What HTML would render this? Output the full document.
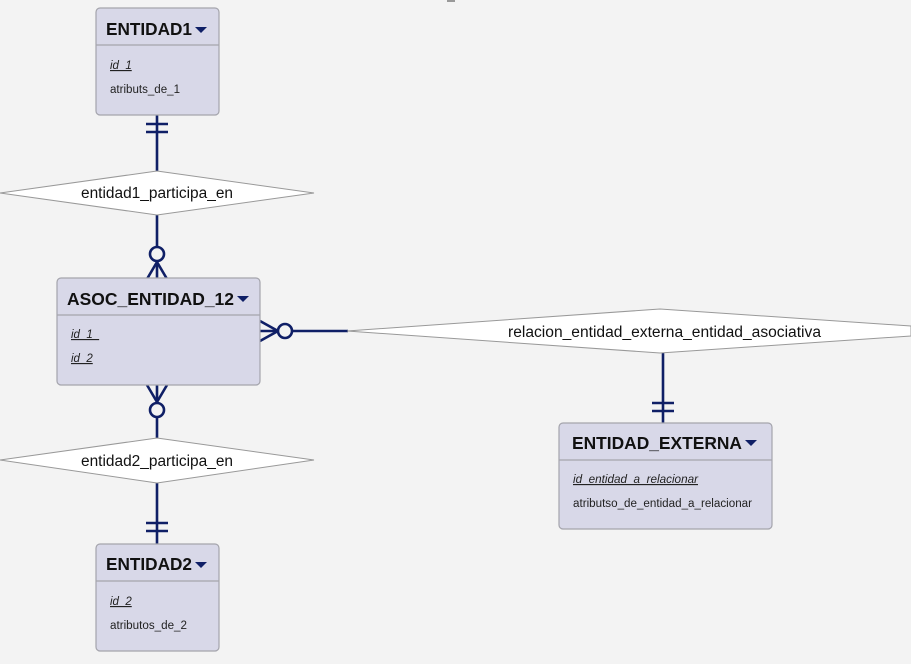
<!DOCTYPE html>
<html><head><meta charset="utf-8"><style>
html,body{margin:0;padding:0;background:#f3f3f3;}
svg{display:block;font-family:"Liberation Sans",Arial,sans-serif;}
.ent{fill:#d8d8e8;stroke:#a4a4ac;stroke-width:1.2;}
.hl{stroke:#a4a4ac;stroke-width:1.2;}
.t{font-weight:bold;font-size:17.5px;fill:#111;}
.a{font-size:11.5px;fill:#222;}
.k{font-size:11.5px;fill:#222;font-style:italic;text-decoration:underline;}
.d{fill:#fff;stroke:#999;stroke-width:1;}
.dt{font-size:15.5px;fill:#111;}
.c{stroke:#0f1f66;stroke-width:2.6;fill:none;}
.tri{fill:#0f1f66;}
</style></head><body>
<svg width="911" height="664" viewBox="0 0 911 664">
<rect x="447" y="0" width="8" height="2" fill="#999"/>
<!-- connectors -->
<line class="c" x1="157" y1="115" x2="157" y2="171"/>
<line class="c" x1="146" y1="124" x2="168" y2="124"/>
<line class="c" x1="146" y1="132" x2="168" y2="132"/>
<line class="c" x1="157" y1="215" x2="157" y2="246"/>
<circle class="c" cx="157" cy="254" r="7" fill="#f3f3f3"/>
<line class="c" x1="157" y1="261" x2="157" y2="279"/>
<line class="c" x1="157" y1="262" x2="147" y2="279"/>
<line class="c" x1="157" y1="262" x2="167" y2="279"/>

<line class="c" x1="260" y1="331" x2="278" y2="331"/>
<line class="c" x1="278" y1="331" x2="260" y2="321"/>
<line class="c" x1="278" y1="331" x2="260" y2="341"/>
<circle class="c" cx="285" cy="331" r="7" fill="#f3f3f3"/>
<line class="c" x1="292" y1="331" x2="348" y2="331"/>

<line class="c" x1="663" y1="353" x2="663" y2="423"/>
<line class="c" x1="652" y1="403" x2="674" y2="403"/>
<line class="c" x1="652" y1="411" x2="674" y2="411"/>

<line class="c" x1="157" y1="385" x2="157" y2="403"/>
<line class="c" x1="157" y1="402" x2="147" y2="385"/>
<line class="c" x1="157" y1="402" x2="167" y2="385"/>
<circle class="c" cx="157" cy="410" r="7" fill="#f3f3f3"/>
<line class="c" x1="157" y1="417" x2="157" y2="438"/>

<line class="c" x1="157" y1="483" x2="157" y2="544"/>
<line class="c" x1="146" y1="523" x2="168" y2="523"/>
<line class="c" x1="146" y1="531" x2="168" y2="531"/>

<!-- diamonds -->
<polygon class="d" points="0,193 157,171 314,193 157,215"/>
<text class="dt" x="81" y="198" textLength="152" lengthAdjust="spacingAndGlyphs">entidad1_participa_en</text>
<polygon class="d" points="0,460 157,438 314,460 157,483"/>
<text class="dt" x="81" y="466" textLength="152" lengthAdjust="spacingAndGlyphs">entidad2_participa_en</text>
<polygon class="d" points="347,331 660,309 911,326 911,336 660,353"/>
<text class="dt" x="508" y="337" textLength="313" lengthAdjust="spacingAndGlyphs">relacion_entidad_externa_entidad_asociativa</text>

<!-- entities -->
<rect class="ent" x="96" y="8" width="123" height="107" rx="4"/>
<line class="hl" x1="96" y1="45" x2="219" y2="45"/>
<text class="t" x="106" y="35" textLength="86" lengthAdjust="spacingAndGlyphs">ENTIDAD1</text>
<polygon class="tri" points="195,27 207,27 201,33"/>
<text class="k" x="110" y="69">id_1</text>
<text class="a" x="110" y="93" textLength="70" lengthAdjust="spacingAndGlyphs">atributs_de_1</text>

<rect class="ent" x="57" y="278" width="203" height="107" rx="4"/>
<line class="hl" x1="57" y1="315" x2="260" y2="315"/>
<text class="t" x="67" y="305" textLength="167" lengthAdjust="spacingAndGlyphs">ASOC_ENTIDAD_12</text>
<polygon class="tri" points="237,296 249,296 243,302"/>
<text class="k" x="71" y="338">id_1_</text>
<text class="k" x="71" y="362">id_2</text>

<rect class="ent" x="559" y="423" width="213" height="106" rx="4"/>
<line class="hl" x1="559" y1="460" x2="772" y2="460"/>
<text class="t" x="572" y="449" textLength="170" lengthAdjust="spacingAndGlyphs">ENTIDAD_EXTERNA</text>
<polygon class="tri" points="745,440 757,440 751,446"/>
<text class="k" x="573" y="483" textLength="125" lengthAdjust="spacingAndGlyphs">id_entidad_a_relacionar</text>
<text class="a" x="573" y="507" textLength="179" lengthAdjust="spacingAndGlyphs">atributso_de_entidad_a_relacionar</text>

<rect class="ent" x="96" y="544" width="123" height="107" rx="4"/>
<line class="hl" x1="96" y1="581" x2="219" y2="581"/>
<text class="t" x="106" y="570" textLength="86" lengthAdjust="spacingAndGlyphs">ENTIDAD2</text>
<polygon class="tri" points="195,562 207,562 201,568"/>
<text class="k" x="110" y="605">id_2</text>
<text class="a" x="110" y="629" textLength="77" lengthAdjust="spacingAndGlyphs">atributos_de_2</text>
</svg>
</body></html>
